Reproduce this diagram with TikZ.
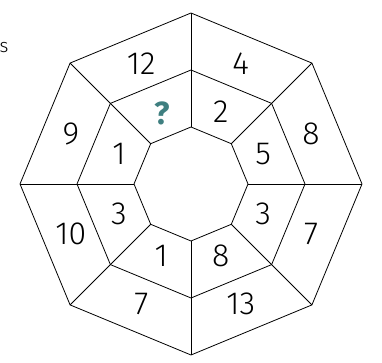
\documentclass[tikz,border=0pt]{standalone}
\usepackage{fontspec}
\setmainfont{Fira Sans}[UprightFont=* Light,BoldFont=* Bold]
\usetikzlibrary{calc}
\definecolor{cteal}{HTML}{3f7f80}

\begin{document}
\begin{tikzpicture}[x=1pt,y=1pt,line width=0.8pt,line join=round]
  \tikzstyle{num}=[font=\fontsize{32}{32}\selectfont,inner sep=0pt]
  \tikzstyle{ask}=[num,font=\fontsize{32}{32}\selectfont\bfseries,text=cteal]
  \useasboundingbox (0,0) rectangle (382,363);

  % cut-off text on the left
  \node[font=\fontsize{19}{19}\selectfont,inner sep=0pt] (cut) at (4,315) {s};

  \begin{scope}[shift={(191,179)}]
    % corners of the three rings
    \foreach \k in {0,...,7} {
      \coordinate (o\k) at (45*\k:171);
      \coordinate (m\k) at (45*\k:114);
      \coordinate (i\k) at (45*\k:57);
    }
    % rings
    \draw (o0) -- (o1) -- (o2) -- (o3) -- (o4) -- (o5) -- (o6) -- (o7) -- cycle;
    \draw (m0) -- (m1) -- (m2) -- (m3) -- (m4) -- (m5) -- (m6) -- (m7) -- cycle;
    \draw (i0) -- (i1) -- (i2) -- (i3) -- (i4) -- (i5) -- (i6) -- (i7) -- cycle;
    % spokes
    \foreach \k in {0,...,7}
      \draw (i\k) -- (o\k);

    % outer ring numbers
    \foreach \k/\v in {0/8,1/4,2/12,3/9,4/10,5/7,6/13,7/7}
      \node[num] (out\k) at (22.5+45*\k:130) {\v};
    % inner ring numbers
    \foreach \k/\v in {0/5,1/2,3/1,4/3,5/1,6/8,7/3}
      \node[num] (in\k) at (22.5+45*\k:78) {\v};
    \node[ask] (in2) at (112.5:76) {?};
  \end{scope}
\end{tikzpicture}
\end{document}
